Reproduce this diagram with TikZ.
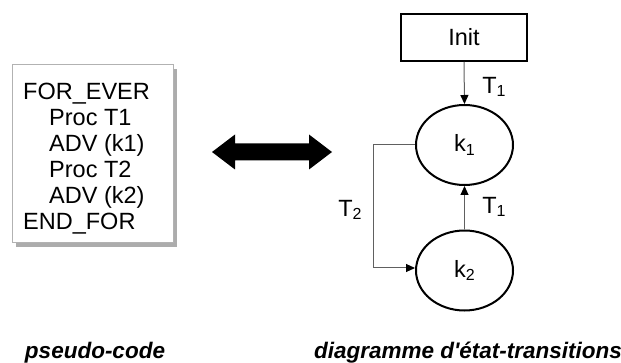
\documentclass[tikz,border=0pt]{standalone}
\usepackage{fontspec}
\setmainfont{Liberation Sans}
\usetikzlibrary{arrows.meta,shapes.geometric}
\newcommand\mysub[1]{\raisebox{-0.3ex}{\fontsize{16}{16}\selectfont #1}}
\newcommand\straightquote{\XeTeXglyph\the\XeTeXcharglyph"27\relax}
\tikzset{
  txt/.style={font=\fontsize{23.5}{26}\selectfont, inner sep=0pt},
  codeline/.style={txt, anchor=base west},
  state/.style={draw=black, line width=2pt, ellipse, minimum width=97pt, minimum height=80pt, inner sep=0pt, txt},
  initbox/.style={draw=black, line width=2pt, rectangle, minimum width=126pt, minimum height=47pt, inner sep=0pt, txt},
  conn/.style={draw=gray!75!black, line width=1pt, -{Triangle[length=9pt,width=8pt,black]}},
  lbl/.style={txt},
  caption/.style={font=\fontsize{22.5}{26}\selectfont\bfseries\itshape, inner sep=0pt, anchor=base}
}
\begin{document}
\begin{tikzpicture}[x=1pt,y=-1pt]
\useasboundingbox (0,0) rectangle (621,363);
% code box with shadow
\fill[gray!65] (16,69) rectangle (177,247);
\filldraw[fill=white, draw=gray!60, line width=1pt] (12,65) rectangle (173,243);
\node[codeline] (l1) at (23,100) {FOR\_EVER};
\node[codeline] (l2) at (49,126) {Proc T1};
\node[codeline] (l3) at (49,152) {ADV (k1)};
\node[codeline] (l4) at (49,178) {Proc T2};
\node[codeline] (l5) at (49,204) {ADV (k2)};
\node[codeline] (l6) at (23,230) {END\_FOR};
% double arrow
\fill[black] (212,152) -- (235,134.5) -- (235,143.5) -- (309,143.5) -- (309,134.5) -- (332,152)
  -- (309,169.5) -- (309,160.5) -- (235,160.5) -- (235,169.5) -- cycle;
% state diagram
\node[initbox] (init) at (464,37.5) {Init};
\node[state] (k1) at (464.5,145) {k\mysub{1}};
\node[state] (k2) at (464.5,270.5) {k\mysub{2}};
\coordinate (c1) at (373,145);
\coordinate (c2) at (373,268);
\draw[conn] (init.south) -- (k1.north);
\draw[conn] (k2.north) -- (k1.south);
\draw[conn] (k1.west) -- (c1) -- (c2) -- (k2.west |- c2);
\node[lbl] (t1a) at (494,87) {T\mysub{1}};
\node[lbl] (t1b) at (494,207) {T\mysub{1}};
\node[lbl] (t2) at (350,210) {T\mysub{2}};
% captions
\node[caption] (cap1) at (95,358) {pseudo-code};
\node[caption] (cap2) at (468,358) {diagramme d\straightquote état-transitions};
\end{tikzpicture}
\end{document}
